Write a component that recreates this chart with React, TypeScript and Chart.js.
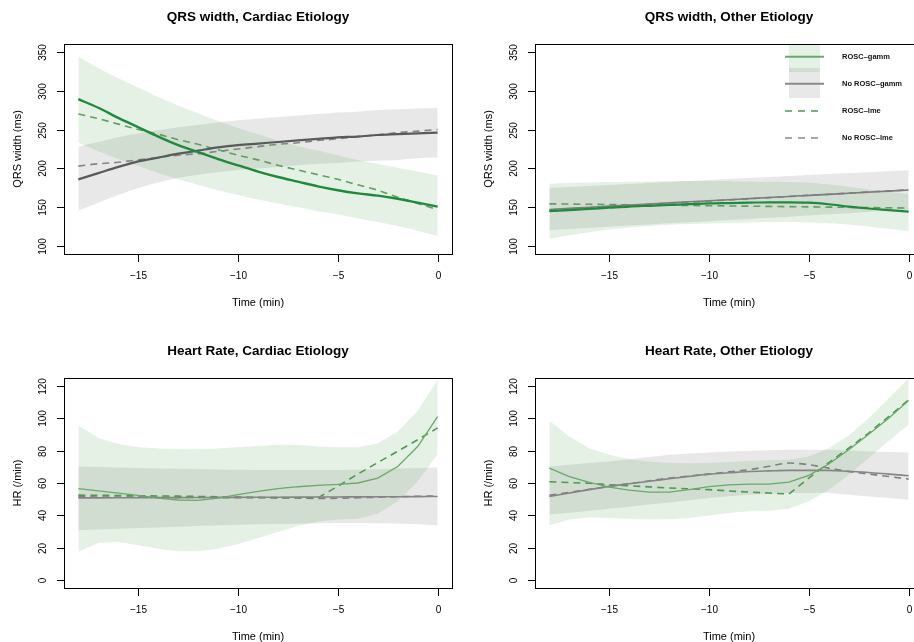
import React, { useEffect, useRef } from 'react';
import { Chart, registerables } from 'chart.js';
Chart.register(...registerables);

// ---------------- data ----------------
const TIME = [-18, -17, -16, -15, -14, -13, -12, -11, -10, -9, -8, -7, -6, -5, -4, -3, -2, -1, 0];
const X_TICKS = [-15, -10, -5, 0];
const QRS_TICKS = [100, 150, 200, 250, 300, 350];
const HR_TICKS = [0, 20, 40, 60, 80, 100, 120];

// QRS width, Cardiac Etiology
const qrsCardRoscGamm = [289, 278, 265, 253, 241, 230, 221, 212, 204, 196, 189, 183, 177, 172, 168, 165, 161, 156, 151];
const qrsCardRoscGammLo = [233, 222, 212, 203, 194, 186, 179, 172, 166, 160, 155, 150, 145, 141, 136, 131, 126, 120, 113];
const qrsCardRoscGammHi = [344, 329, 316, 304, 292, 281, 271, 261, 252, 244, 236, 229, 223, 217, 211, 206, 201, 196, 191];
const qrsCardRoscLme = [270, 264, 257, 250, 244, 237, 231, 224, 217, 211, 204, 198, 192, 186, 179, 172, 163, 155, 147];
const qrsCardNoGamm = [186, 194, 202, 209, 214, 219, 223, 227, 230, 232, 234, 236, 238, 240, 241, 243, 244, 245, 246];
const qrsCardNoGammLo = [146, 156, 166, 175, 182, 188, 192, 195, 198, 200, 202, 204, 206, 207, 209, 210, 211, 213, 214];
const qrsCardNoGammHi = [228, 234, 240, 245, 249, 253, 256, 259, 262, 264, 266, 268, 270, 272, 273, 275, 276, 277, 278];
const qrsCardNoLme = [203, 206, 208, 211, 214, 217, 219, 222, 225, 228, 231, 233, 236, 238, 241, 243, 246, 248, 250];

// QRS width, Other Etiology
const qrsOthRoscGamm = [145, 146.5, 148, 149.5, 151, 152, 153, 154, 155, 155.5, 156, 156.5, 156.5, 156, 154, 151, 148.5, 146.5, 144.5];
const qrsOthRoscGammLo = [109.5, 114, 118, 121.5, 124, 126, 127.5, 128.5, 129.3, 130, 130.5, 131, 131, 130.5, 129.5, 128, 125.5, 122.5, 119.3];
const qrsOthRoscGammHi = [180.4, 181.2, 182, 182.5, 183, 183.3, 183.6, 183.8, 183.8, 183.6, 183.2, 182.8, 182.5, 181.5, 179.5, 176.5, 173, 170, 167];
const qrsOthRoscLme = [154.5, 154.2, 153.9, 153.6, 153.3, 153, 152.7, 152.4, 152.1, 151.8, 151.5, 151.2, 150.9, 150.6, 150.3, 150, 149.7, 149.4, 149.1];
const qrsOthNoGamm = [147.3, 148.7, 150.1, 151.5, 152.9, 154.3, 155.7, 157.1, 158.5, 159.8, 161.2, 162.6, 164, 165.4, 166.7, 168.1, 169.5, 170.9, 172.2];
const qrsOthNoGammLo = [120.6, 122, 123.5, 125, 126.5, 128, 129.4, 130.8, 132.2, 133.6, 135, 136.5, 138, 139.5, 141, 142.5, 144, 145.5, 147];
const qrsOthNoGammHi = [174.7, 176, 177.3, 178.6, 179.9, 181.2, 182.5, 183.8, 185.1, 186.3, 187.6, 188.9, 190.2, 191.5, 192.8, 194, 195.1, 196.3, 197.6];
const qrsOthNoLme = [146.5, 148, 149.4, 150.9, 152.3, 153.8, 155.2, 156.7, 158.1, 159.6, 161, 162.5, 163.9, 165.4, 166.8, 168.3, 169.7, 171.1, 172.5];

// Heart Rate, Cardiac Etiology
const hrCardRoscGamm = [56.5, 55.2, 53.8, 52.4, 50.7, 49.5, 49.3, 50.7, 52.8, 54.8, 56.5, 57.7, 58.5, 59.1, 60, 63, 70.2, 82.5, 101];
const hrCardRoscGammLo = [17.5, 23, 23.6, 21.6, 19.5, 17.9, 17.9, 19.5, 22.4, 26.1, 29.8, 33.5, 36.3, 37.4, 38, 41, 48.7, 61, 77.8];
const hrCardRoscGammHi = [95.5, 87.7, 84, 82.1, 81.3, 81, 80.9, 81.3, 82, 82.8, 83.6, 83.4, 82.5, 82, 82, 84.4, 91.8, 104.5, 123.6];
const hrCardRoscLme = [52.5, 52.4, 52.3, 52.1, 52, 51.9, 51.7, 51.5, 51.3, 51.1, 51, 50.9, 50.8, 58, 65.5, 72.6, 79.6, 86.7, 94];
const hrCardNoGamm = [50.8, 50.85, 50.9, 50.95, 51, 51, 51.05, 51.1, 51.15, 51.2, 51.25, 51.3, 51.35, 51.4, 51.45, 51.5, 51.55, 51.6, 51.7];
const hrCardNoGammLo = [30.8, 31.3, 31.7, 32.2, 32.6, 33, 33.4, 33.9, 34.3, 34.5, 34.7, 34.9, 35.1, 35.3, 35.3, 35.2, 35, 34.5, 33.9];
const hrCardNoGammHi = [70.2, 69.9, 69.5, 69.2, 69, 68.8, 68.6, 68.4, 68.2, 68.1, 68, 68, 68, 68, 68.2, 68.5, 68.9, 69.3, 69.6];
const hrCardNoLme = [51.5, 51.4, 51.3, 51.3, 51.2, 51.1, 51.1, 51, 51, 50.9, 50.8, 50.7, 50.5, 50.6, 50.9, 51.2, 51.5, 51.8, 52];

// Heart Rate, Other Etiology
const hrOthRoscGamm = [69.2, 64, 60.4, 57.5, 55.6, 54.4, 54.4, 55.9, 57.7, 58.9, 59.3, 59.3, 60.6, 64.7, 71.7, 80.5, 90.1, 100, 110.9];
const hrOthRoscGammLo = [33.9, 37.4, 38.8, 38.4, 37.8, 37.4, 37.6, 38.4, 40, 41.5, 42.5, 42.9, 44.1, 48.7, 55.9, 65.1, 75.4, 86, 95.9];
const hrOthRoscGammHi = [98.4, 88.7, 81.5, 77.4, 74.7, 73.3, 72.3, 72.2, 72.3, 73, 73.7, 74, 74.3, 76.4, 81.5, 89.3, 100, 112.3, 124.6];
const hrOthRoscLme = [60.8, 60.3, 59.8, 58.9, 58.3, 57.6, 56.9, 56.4, 55.9, 55.1, 54.4, 53.8, 53.2, 63, 72.6, 81.5, 90.8, 101, 111.3];
const hrOthNoGamm = [51.7, 53.8, 55.9, 57.9, 59.5, 61.1, 62.6, 64.1, 65.5, 66.3, 67.1, 67.5, 67.8, 67.8, 67.8, 67.2, 66.5, 65.5, 64.5];
const hrOthNoGammLo = [40.5, 41.7, 42.9, 44.1, 45.4, 46.7, 48, 49.4, 50.7, 51.8, 52.8, 53.3, 53.8, 53.8, 53.8, 52.8, 51.7, 50.7, 49.7];
const hrOthNoGammHi = [70.2, 71.2, 72.3, 73.3, 74.6, 76, 77.4, 78.2, 78.9, 79.4, 79.9, 80.2, 80.5, 80.5, 80.5, 80, 79.5, 79.2, 78.9];
const hrOthNoLme = [52.4, 54.2, 56.1, 57.9, 59.6, 61.3, 63, 64.3, 65.5, 66.9, 68.2, 70.3, 72.3, 71.3, 69.2, 67.1, 65.5, 64, 62.4];

const LEGEND_LABELS = ['ROSC-gamm', 'No ROSC-gamm', 'ROSC-lme', 'No ROSC-lme'];

// ---------------- styles ----------------
const FONT = '"Liberation Sans", Arial, Helvetica, sans-serif';
const GREEN_BAND = 'rgba(34,139,34,0.12)';
const GREY_BAND = 'rgba(120,120,120,0.17)';
const PW = 471;
const PH = 333;
const X_MIN = -18.72;
const X_MAX = 0.72;

const topStyle = {
  greenSolid: '#1e8a3c', greenSolidW: 2.4,
  greySolid: '#5a5a5a', greySolidW: 2.2,
  greenDash: '#5f9f5f', greyDash: '#858585', dashW: 1.6,
  smooth: true,
};
const topRightStyle = { ...topStyle, greenSolidW: 2.2, greySolid: '#7d7d7d', greySolidW: 1.6 };
const bottomStyle = {
  greenSolid: '#6aa96a', greenSolidW: 1.3,
  greySolid: '#858585', greySolidW: 1.6,
  greenDash: '#4e9a4e', greyDash: '#808080', dashW: 1.6,
  smooth: false,
};

const panels = [
  {
    title: 'QRS width, Cardiac Etiology', yLabel: 'QRS width (ms)', yMin: 90, yMax: 360, yTicks: QRS_TICKS,
    rg: qrsCardRoscGamm, rgLo: qrsCardRoscGammLo, rgHi: qrsCardRoscGammHi, rl: qrsCardRoscLme,
    ng: qrsCardNoGamm, ngLo: qrsCardNoGammLo, ngHi: qrsCardNoGammHi, nl: qrsCardNoLme,
    style: topStyle, legend: false, left: 0, top: 0,
  },
  {
    title: 'QRS width, Other Etiology', yLabel: 'QRS width (ms)', yMin: 90, yMax: 360, yTicks: QRS_TICKS,
    rg: qrsOthRoscGamm, rgLo: qrsOthRoscGammLo, rgHi: qrsOthRoscGammHi, rl: qrsOthRoscLme,
    ng: qrsOthNoGamm, ngLo: qrsOthNoGammLo, ngHi: qrsOthNoGammHi, nl: qrsOthNoLme,
    style: topRightStyle, legend: true, left: PW, top: 0,
  },
  {
    title: 'Heart Rate, Cardiac Etiology', yLabel: 'HR (/min)', yMin: -4.8, yMax: 124.8, yTicks: HR_TICKS,
    rg: hrCardRoscGamm, rgLo: hrCardRoscGammLo, rgHi: hrCardRoscGammHi, rl: hrCardRoscLme,
    ng: hrCardNoGamm, ngLo: hrCardNoGammLo, ngHi: hrCardNoGammHi, nl: hrCardNoLme,
    style: bottomStyle, legend: false, left: 0, top: 334,
  },
  {
    title: 'Heart Rate, Other Etiology', yLabel: 'HR (/min)', yMin: -4.8, yMax: 124.8, yTicks: HR_TICKS,
    rg: hrOthRoscGamm, rgLo: hrOthRoscGammLo, rgHi: hrOthRoscGammHi, rl: hrOthRoscLme,
    ng: hrOthNoGamm, ngLo: hrOthNoGammLo, ngHi: hrOthNoGammHi, nl: hrOthNoLme,
    style: bottomStyle, legend: false, left: PW, top: 334,
  },
];

const fmtNum = (v: number) => String(v).replace('-', '\u2212');

// R-style axes, box, titles and legend drawn with the chart's own scales
const rAxesPlugin = {
  id: 'rAxes',
  afterDraw(chart: any, _args: any, opts: any) {
    const { ctx, chartArea: a, scales } = chart;
    const xs = scales.x;
    const ys = scales.y;
    ctx.save();
    ctx.fillStyle = '#000';
    ctx.strokeStyle = '#000';
    ctx.lineWidth = 1;
    ctx.setLineDash([]);

    // legend
    if (opts.legend) {
      const rx0 = a.right - 134, rx1 = a.right - 103;
      ctx.fillStyle = GREEN_BAND;
      ctx.fillRect(rx0, a.top, rx1 - rx0, 28);
      ctx.fillStyle = GREY_BAND;
      ctx.fillRect(rx0, a.top + 24, rx1 - rx0, 30);
      const lx0 = a.right - 138, lx1 = a.right - 99;
      const items = [
        { y: a.top + 12.7, c: '#6aa96a', w: 2, d: [] },
        { y: a.top + 39.7, c: '#8a8a8a', w: 2, d: [] },
        { y: a.top + 67, c: '#4e9a4e', w: 1.6, d: [7, 6] },
        { y: a.top + 94, c: '#8a8a8a', w: 1.6, d: [7, 6] },
      ];
      ctx.font = `bold 7.5px ${FONT}`;
      ctx.textAlign = 'left';
      ctx.textBaseline = 'middle';
      items.forEach((it, i) => {
        ctx.beginPath();
        ctx.strokeStyle = it.c;
        ctx.lineWidth = it.w;
        ctx.setLineDash(it.d);
        ctx.moveTo(lx0, it.y);
        ctx.lineTo(lx1, it.y);
        ctx.stroke();
        ctx.fillStyle = '#111';
        ctx.fillText(LEGEND_LABELS[i].replace('-', '\u2013'), a.right - 81, it.y);
      });
      ctx.setLineDash([]);
      ctx.strokeStyle = '#000';
      ctx.fillStyle = '#000';
      ctx.lineWidth = 1;
    }

    // box
    ctx.strokeRect(Math.round(a.left) + 0.5, Math.round(a.top) + 0.5, Math.round(a.right - a.left), Math.round(a.bottom - a.top));

    // x axis ticks
    ctx.font = `10px ${FONT}`;
    ctx.textAlign = 'center';
    ctx.textBaseline = 'middle';
    for (const t of opts.xTicks) {
      const px = Math.round(xs.getPixelForValue(t)) + 0.5;
      ctx.beginPath();
      ctx.moveTo(px, a.bottom);
      ctx.lineTo(px, a.bottom + 8);
      ctx.stroke();
      ctx.fillText(fmtNum(t), px, a.bottom + 22);
    }
    // y axis ticks
    for (const v of opts.yTicks) {
      const py = Math.round(ys.getPixelForValue(v)) + 0.5;
      ctx.beginPath();
      ctx.moveTo(a.left - 7, py);
      ctx.lineTo(a.left, py);
      ctx.stroke();
      ctx.save();
      ctx.translate(a.left - 21, py);
      ctx.rotate(-Math.PI / 2);
      ctx.fillText(fmtNum(v), 0, 0);
      ctx.restore();
    }
    // axis titles
    ctx.font = `11px ${FONT}`;
    ctx.fillText('Time (min)', (a.left + a.right) / 2, a.bottom + 48.5);
    ctx.save();
    ctx.translate(18.3, (a.top + a.bottom) / 2);
    ctx.rotate(-Math.PI / 2);
    ctx.fillText(opts.yLabel, 0, 0);
    ctx.restore();
    // main title
    ctx.font = `bold 13.5px ${FONT}`;
    ctx.fillText(opts.title, (a.left + a.right) / 2, 17.3);
    ctx.restore();
  },
};

const pts = (arr: number[]) => TIME.map((t, i) => ({ x: t, y: arr[i] }));

function Panel({ p }: { p: any }) {
  const ref = useRef<HTMLCanvasElement | null>(null);
  useEffect(() => {
    const s = p.style;
    const interp = s.smooth ? 'monotone' : 'default';
    const band = (arr: number[], fill: any, bg: string, order: number) => ({
      data: pts(arr),
      borderColor: 'rgba(0,0,0,0)',
      borderWidth: 0,
      backgroundColor: bg,
      fill,
      pointRadius: 0,
      cubicInterpolationMode: interp,
      order,
    });
    const line = (arr: number[], color: string, w: number, dash: number[], smooth: boolean, order: number) => ({
      data: pts(arr),
      borderColor: color,
      borderWidth: w,
      borderDash: dash,
      backgroundColor: color,
      fill: false,
      pointRadius: 0,
      cubicInterpolationMode: smooth ? 'monotone' : 'default',
      tension: 0,
      order,
    });
    const chart = new Chart(ref.current as HTMLCanvasElement, {
      type: 'line',
      data: {
        datasets: [
          band(p.ngLo, false, GREY_BAND, 20),
          band(p.ngHi, '-1', GREY_BAND, 20),
          band(p.rgLo, false, GREEN_BAND, 19),
          band(p.rgHi, '-1', GREEN_BAND, 19),
          line(p.nl, s.greyDash, s.dashW, [7, 5], true, 4),
          line(p.rl, s.greenDash, s.dashW, [7, 5], s.smooth, 3),
          line(p.ng, s.greySolid, s.greySolidW, [], true, 2),
          line(p.rg, s.greenSolid, s.greenSolidW, [], s.smooth, 1),
        ] as any,
      },
      options: {
        responsive: false,
        animation: false,
        devicePixelRatio: 1,
        layout: { padding: { left: 64, right: PW - 452, top: 44, bottom: PH - 254 } },
        scales: {
          x: { type: 'linear', min: X_MIN, max: X_MAX, display: false },
          y: { type: 'linear', min: p.yMin, max: p.yMax, display: false },
        },
        plugins: {
          legend: { display: false },
          tooltip: { enabled: false },
          rAxes: { xTicks: X_TICKS, yTicks: p.yTicks, title: p.title, yLabel: p.yLabel, legend: p.legend },
        } as any,
      },
      plugins: [rAxesPlugin],
    } as any);
    return () => chart.destroy();
  }, [p]);
  return (
    <div style={{ position: 'absolute', left: p.left, top: p.top, width: PW, height: PH }}>
      <canvas ref={ref} width={PW} height={PH} style={{ display: 'block', width: PW, height: PH }} />
    </div>
  );
}

export default function App() {
  return (
    <div style={{ position: 'fixed', left: 0, top: 0, width: 914, height: 642, overflow: 'hidden', background: '#fff' }}>
      {panels.map((p, i) => (
        <Panel key={i} p={p} />
      ))}
    </div>
  );
}
